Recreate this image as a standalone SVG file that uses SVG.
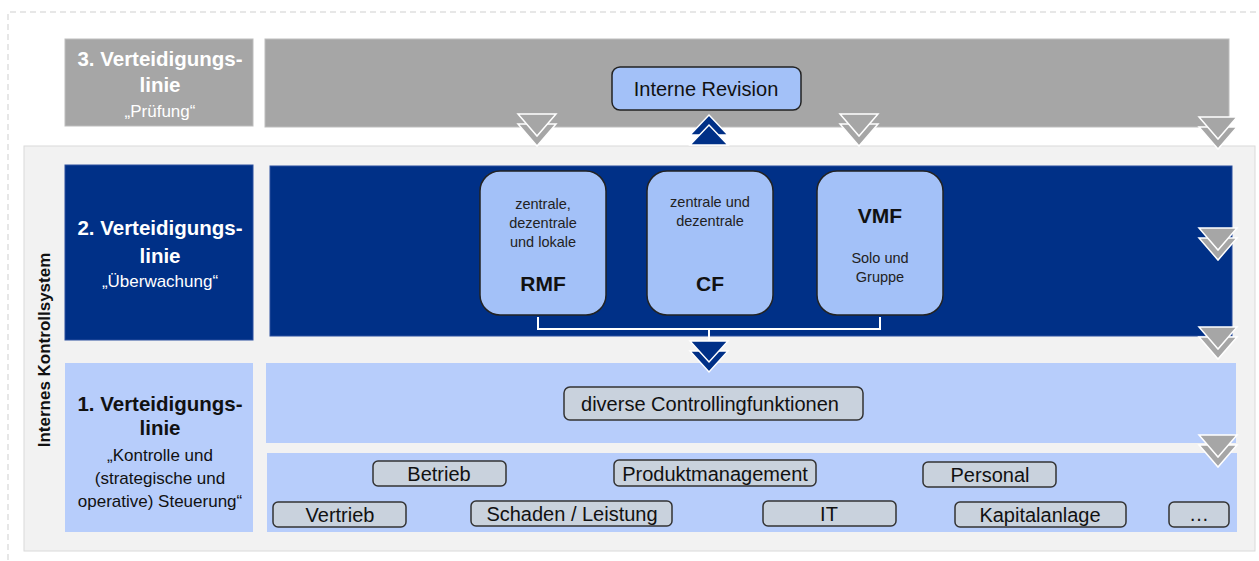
<svg xmlns="http://www.w3.org/2000/svg" width="1259" height="561" viewBox="0 0 1259 561">
<style>
text{font-family:"Liberation Sans",Arial,sans-serif;text-anchor:middle}
.lbl{font-weight:bold;font-size:20.5px}
.sub{font-size:17px}
.box{fill:#c9d2dd;stroke:#333;stroke-width:1.5}
.bt{font-size:20px;fill:#111}
.fn{fill:#a3c1f8;stroke:#222;stroke-width:1.5}
.sm{font-size:14.5px;fill:#222}
.big{font-size:21px;font-weight:bold;fill:#111}
.gch{fill:#a6a6a6;stroke:#fff;stroke-width:1.5}
.bch{fill:#003087;stroke:#fff;stroke-width:1.5}
</style>
<rect width="1259" height="561" fill="#fff"/>
<path d="M8 560 V12 H1259" fill="none" stroke="#cfcfcf" stroke-dasharray="6 4"/>

<g id="line3">
<rect x="65" y="39" width="188" height="87" fill="#a6a6a6" stroke="#bdbdbd"/>
<text x="160" y="66" class="lbl" fill="#fff">3. Verteidigungs-</text>
<text x="160" y="92" class="lbl" fill="#fff">linie</text>
<text x="160" y="117" class="sub" fill="#fff">„Prüfung“</text>
<rect x="265" y="39" width="964" height="88" fill="#a6a6a6" stroke="#bdbdbd"/>
</g>

<g id="iks">
<rect x="24" y="146" width="1231" height="405" fill="#f2f2f2" stroke="#dadada"/>
<text transform="translate(50 350) rotate(-90)" font-weight="bold" font-size="17" fill="#111">Internes Kontrollsystem</text>
</g>

<g id="line2">
<rect x="65" y="165" width="188" height="175" fill="#003087" stroke="#2a4f9e"/>
<text x="160" y="235" class="lbl" fill="#fff">2. Verteidigungs-</text>
<text x="160" y="263" class="lbl" fill="#fff">linie</text>
<text x="160" y="287" class="sub" fill="#fff">„Überwachung“</text>
<rect x="270" y="166" width="962" height="170" fill="#003087" stroke="#2a4f9e"/>
</g>

<g id="line1">
<rect x="65" y="363" width="188" height="169" fill="#b7cdfb"/>
<text x="160" y="411" class="lbl" fill="#111">1. Verteidigungs-</text>
<text x="160" y="435" class="lbl" fill="#111">linie</text>
<text x="160" y="461" class="sub" fill="#111">„Kontrolle und</text>
<text x="160" y="484" class="sub" fill="#111">(strategische und</text>
<text x="160" y="507" class="sub" fill="#111">operative) Steuerung“</text>
<rect x="266" y="363" width="970" height="80" fill="#b7cdfb"/>
<rect x="267" y="453" width="970" height="79" fill="#b7cdfb"/>
</g>

<g id="interne-revision">
<rect x="612" y="67" width="189" height="43" rx="8" class="fn"/>
<text x="706" y="96" font-size="20" fill="#111">Interne Revision</text>
</g>

<g id="rmf">
<rect x="480" y="171" width="126" height="144" rx="20" class="fn"/>
<text x="543" y="209" class="sm">zentrale,</text>
<text x="543" y="228" class="sm">dezentrale</text>
<text x="543" y="247" class="sm">und lokale</text>
<text x="543" y="291" class="big">RMF</text>
</g>
<g id="cf">
<rect x="647" y="171" width="126" height="144" rx="20" class="fn"/>
<text x="710" y="207" class="sm">zentrale und</text>
<text x="710" y="226" class="sm">dezentrale</text>
<text x="710" y="291" class="big">CF</text>
</g>
<g id="vmf">
<rect x="817" y="171" width="126" height="144" rx="20" class="fn"/>
<text x="880" y="223" class="big">VMF</text>
<text x="880" y="263" class="sm">Solo und</text>
<text x="880" y="282" class="sm">Gruppe</text>
</g>

<g id="controlling">
<rect x="564" y="387" width="299" height="33" rx="6" class="box"/>
<text x="710" y="411" class="bt">diverse Controllingfunktionen</text>
</g>
<g id="betrieb"><rect x="373" y="461" width="133" height="25" rx="5" class="box"/><text x="439" y="481" class="bt">Betrieb</text></g>
<g id="produktmanagement"><rect x="614" y="460" width="202" height="26" rx="5" class="box"/><text x="715" y="481" class="bt">Produktmanagement</text></g>
<g id="personal"><rect x="923" y="462" width="133" height="25" rx="5" class="box"/><text x="990" y="482" class="bt">Personal</text></g>
<g id="vertrieb"><rect x="273" y="502" width="133" height="25" rx="5" class="box"/><text x="340" y="522" class="bt">Vertrieb</text></g>
<g id="schaden"><rect x="471" y="501" width="201" height="25" rx="5" class="box"/><text x="572" y="521" class="bt">Schaden / Leistung</text></g>
<g id="it"><rect x="763" y="501" width="133" height="25" rx="5" class="box"/><text x="829" y="521" class="bt">IT</text></g>
<g id="kapitalanlage"><rect x="955" y="502" width="171" height="25" rx="5" class="box"/><text x="1040" y="522" class="bt">Kapitalanlage</text></g>
<g id="etc"><rect x="1169" y="502" width="60" height="25" rx="5" class="box"/><text x="1199" y="521" class="bt">…</text></g>

<g id="connectors">
<path d="M538 317 V329 H880 V317 M709 329 V342" fill="none" stroke="#fff" stroke-width="2"/>
<polygon points="690,351 728,351 709,372" class="bch"/>
<polygon points="690,341 728,341 709,362" class="bch"/>
<polygon points="690,135 728,135 709,115" class="bch"/>
<polygon points="690,145 728,145 709,125" class="bch"/>
<g transform="translate(537 114)"><polygon points="-19,10 19,10 0,32" class="gch"/><polygon points="-19,0 19,0 0,22" class="gch"/></g>
<g transform="translate(859 114)"><polygon points="-19,10 19,10 0,32" class="gch"/><polygon points="-19,0 19,0 0,22" class="gch"/></g>
<g transform="translate(1218 117)"><polygon points="-19,10 19,10 0,32" class="gch"/><polygon points="-19,0 19,0 0,22" class="gch"/></g>
<g transform="translate(1218 228)"><polygon points="-19,10 19,10 0,32" class="gch"/><polygon points="-19,0 19,0 0,22" class="gch"/></g>
<g transform="translate(1218 327)"><polygon points="-19,10 19,10 0,32" class="gch"/><polygon points="-19,0 19,0 0,22" class="gch"/></g>
<g transform="translate(1218 435)"><polygon points="-19,10 19,10 0,32" class="gch"/><polygon points="-19,0 19,0 0,22" class="gch"/></g>
</g>
</svg>
